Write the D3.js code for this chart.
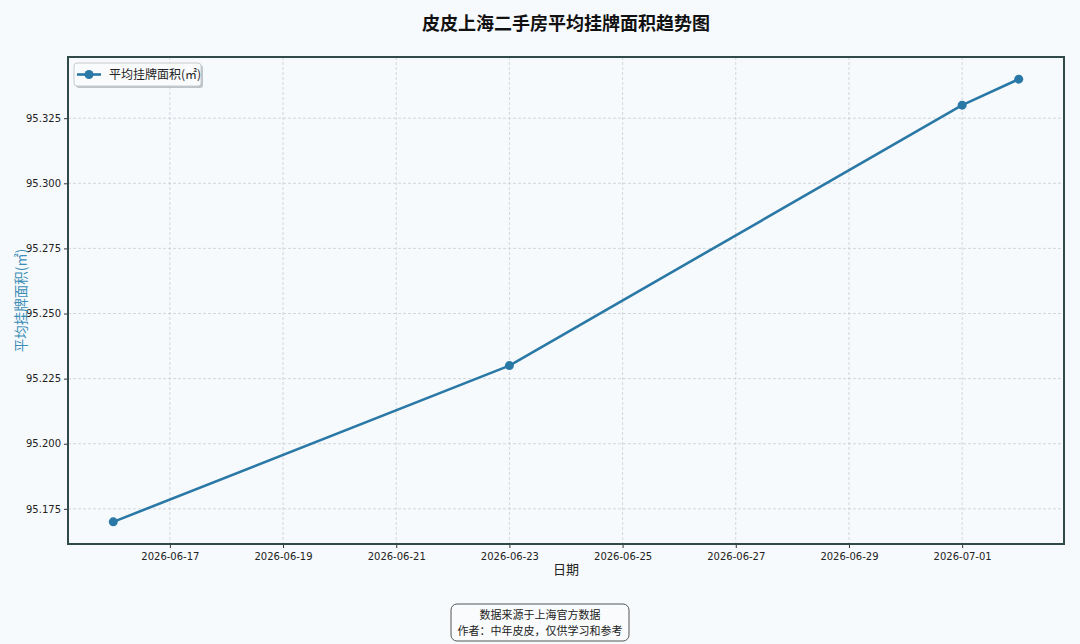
<!DOCTYPE html>
<html>
<head>
<meta charset="utf-8">
<script src="https://cdn.jsdelivr.net/npm/d3@7"></script>
<style>
  body { margin: 0; background: #f7fafc; }
  svg { display: block; }
</style>
</head>
<body>
<div id="chart"></div>
<script>
// data
var dates = ["2026-06-16", "2026-06-23", "2026-07-01", "2026-07-02"];
var areas = [95.170, 95.230, 95.330, 95.340];
var xTickDates = ["2026-06-17", "2026-06-19", "2026-06-21", "2026-06-23",
                  "2026-06-25", "2026-06-27", "2026-06-29", "2026-07-01"];
var yTicks = [95.175, 95.200, 95.225, 95.250, 95.275, 95.300, 95.325];

var W = 1080, H = 644;
var margin = {top: 57, right: 16, bottom: 100, left: 68},
    width = W - margin.left - margin.right,
    height = H - margin.top - margin.bottom;

var cjk = "'Noto Sans CJK SC', 'DejaVu Sans', sans-serif";
var num = "'DejaVu Sans', sans-serif";
var lineColor = "#2a78a6";

var parse = d3.timeParse("%Y-%m-%d");
var data = dates.map(function(d, i) { return {date: parse(d), value: areas[i]}; });

var svg = d3.select("#chart")
  .append("svg")
    .attr("width", W)
    .attr("height", H)
    .style("background", "#f7fafc");

// matplotlib style 5% margins
var x0 = d3.min(data, function(d) { return d.date; }),
    x1 = d3.max(data, function(d) { return d.date; });
var xpad = (x1 - x0) * 0.05;
var x = d3.scaleTime()
  .domain([new Date(+x0 - xpad), new Date(+x1 + xpad)])
  .range([0, width]);

var yMin = d3.min(areas), yMax = d3.max(areas), ypad = (yMax - yMin) * 0.05;
var y = d3.scaleLinear()
  .domain([yMin - ypad, yMax + ypad])
  .range([height, 0]);

var g = svg.append("g")
  .attr("transform", "translate(" + margin.left + "," + margin.top + ")");

g.append("rect")
  .attr("width", width).attr("height", height)
  .attr("fill", "#f7fafc");

// grid
var xTickVals = xTickDates.map(parse);
g.append("g").selectAll("line")
  .data(xTickVals).enter().append("line")
    .attr("x1", function(d) { return x(d); })
    .attr("x2", function(d) { return x(d); })
    .attr("y1", 0).attr("y2", height)
    .attr("stroke", "#c9ced3").attr("stroke-width", 0.8)
    .attr("stroke-dasharray", "3,2");
g.append("g").selectAll("line")
  .data(yTicks).enter().append("line")
    .attr("y1", function(d) { return y(d); })
    .attr("y2", function(d) { return y(d); })
    .attr("x1", 0).attr("x2", width)
    .attr("stroke", "#c9ced3").attr("stroke-width", 0.8)
    .attr("stroke-dasharray", "3,2");

// axes
var xAxis = g.append("g")
  .attr("transform", "translate(0," + height + ")")
  .call(d3.axisBottom(x).tickValues(xTickVals).tickFormat(d3.timeFormat("%Y-%m-%d"))
        .tickSize(4).tickSizeOuter(0));
var yAxis = g.append("g")
  .call(d3.axisLeft(y).tickValues(yTicks).tickFormat(d3.format(".3f"))
        .tickSize(4).tickSizeOuter(0));
[xAxis, yAxis].forEach(function(a) {
  a.select(".domain").remove();
  a.selectAll("line").attr("stroke", "#333");
  a.selectAll("text")
    .attr("font-family", num)
    .attr("font-size", 10)
    .attr("fill", "#222");
});
xAxis.selectAll("text").attr("dy", "0.85em");

// line + markers
var line = d3.line()
  .x(function(d) { return x(d.date); })
  .y(function(d) { return y(d.value); });
g.append("path")
  .datum(data)
  .attr("fill", "none")
  .attr("stroke", lineColor)
  .attr("stroke-width", 2.6)
  .attr("stroke-linejoin", "round")
  .attr("d", line);
g.selectAll(".dot")
  .data(data).enter().append("circle")
    .attr("class", "dot")
    .attr("cx", function(d) { return x(d.date); })
    .attr("cy", function(d) { return y(d.value); })
    .attr("r", 4.5)
    .attr("fill", lineColor);

// frame
g.append("rect")
  .attr("width", width).attr("height", height)
  .attr("fill", "none")
  .attr("stroke", "#2f4a48")
  .attr("stroke-width", 2);

// legend
var lg = g.append("g").attr("transform", "translate(6,6)");
lg.append("rect")
  .attr("x", 2).attr("y", 2)
  .attr("width", 127).attr("height", 23).attr("rx", 3)
  .attr("fill", "#9aa0a6").attr("opacity", 0.6);
lg.append("rect")
  .attr("width", 127).attr("height", 23).attr("rx", 3)
  .attr("fill", "#f9fbfc").attr("stroke", "#c8ccd0");
lg.append("line")
  .attr("x1", 3).attr("x2", 27).attr("y1", 11.5).attr("y2", 11.5)
  .attr("stroke", lineColor).attr("stroke-width", 2.6);
lg.append("circle")
  .attr("cx", 15).attr("cy", 11.5).attr("r", 4.5).attr("fill", lineColor);
lg.append("text")
  .attr("x", 35).attr("y", 16)
  .attr("font-family", cjk).attr("font-size", 12).attr("fill", "#222")
  .text("平均挂牌面积(㎡)");

// title
svg.append("text")
  .attr("x", margin.left + width / 2).attr("y", 30)
  .attr("text-anchor", "middle")
  .attr("font-family", cjk).attr("font-size", 18).attr("font-weight", "bold")
  .attr("fill", "#111")
  .text("皮皮上海二手房平均挂牌面积趋势图");

// axis labels
svg.append("text")
  .attr("x", margin.left + width / 2).attr("y", margin.top + height + 30)
  .attr("text-anchor", "middle")
  .attr("font-family", cjk).attr("font-size", 13).attr("fill", "#222")
  .text("日期");
svg.append("text")
  .attr("transform", "translate(26," + (margin.top + height / 2) + ") rotate(-90)")
  .attr("text-anchor", "middle")
  .attr("font-family", cjk).attr("font-size", 13.5).attr("fill", "#3a8db5")
  .text("平均挂牌面积(㎡)");

// footer note
var fx = 540;
svg.append("rect")
  .attr("x", 451).attr("y", 604).attr("width", 178).attr("height", 37).attr("rx", 6)
  .attr("fill", "#f9fbfc").attr("stroke", "#555").attr("stroke-width", 1);
svg.append("text")
  .attr("x", fx).attr("y", 619)
  .attr("text-anchor", "middle")
  .attr("font-family", cjk).attr("font-size", 11).attr("fill", "#222")
  .text("数据来源于上海官方数据");
svg.append("text")
  .attr("x", fx).attr("y", 635)
  .attr("text-anchor", "middle")
  .attr("font-family", cjk).attr("font-size", 11).attr("fill", "#222")
  .text("作者：中年皮皮，仅供学习和参考");
</script>
</body>
</html>
